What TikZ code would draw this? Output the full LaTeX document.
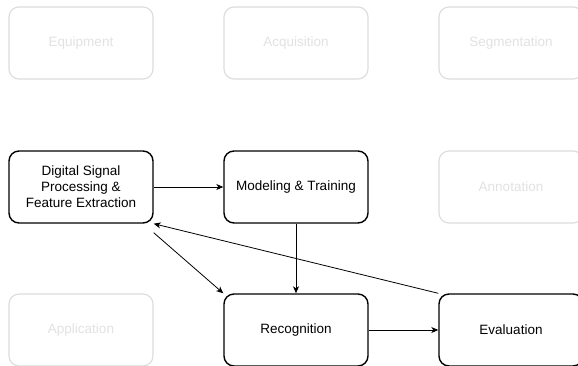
\documentclass[tikz,border=0pt]{standalone}
\usepackage{fontspec}
\setmainfont{Liberation Sans}
\usetikzlibrary{arrows.meta}
\definecolor{fadeline}{HTML}{DCDCDC}
\definecolor{fadetext}{HTML}{E2E2E2}
\begin{document}
\begin{tikzpicture}[x=1pt,y=-1pt,
  box/.style={draw=black,line width=1.4pt,rounded corners=10pt,minimum width=144pt,minimum height=72pt,align=center,font=\fontsize{13.5}{16}\selectfont,inner sep=2pt},
  fadebox/.style={draw=fadeline,line width=1.1pt,rounded corners=10pt,minimum width=144pt,minimum height=72pt,align=center,text=fadetext,font=\fontsize{13.5}{16}\selectfont,inner sep=2pt},
  conn/.style={draw=black,line width=0.8pt,-{Stealth[length=7pt,width=6pt,inset=2pt]}}]
\useasboundingbox[fill=white] (0,0) rectangle (578,365);
\node[fadebox] (equip) at (81,43) {Equipment};
\node[fadebox] (acq) at (296,43) {Acquisition};
\node[fadebox] (seg) at (511,43) {Segmentation};
\node[box] (dsp) at (81,187) {Digital Signal\\Processing \&\\Feature Extraction};
\node[box] (model) at (296,187) {Modeling \& Training};
\node[fadebox] (annot) at (511,187) {Annotation};
\node[fadebox] (app) at (81,330) {Application};
\node[box] (recog) at (296,330) {Recognition};
\node[box] (eval) at (511,330) {Evaluation};
\draw[conn] (dsp.east) -- (model.west);
\draw[conn] (model.south) -- (recog.north);
\draw[conn] (recog.east) -- (eval.west);
\draw[conn] ([yshift=-9pt]dsp.south east) -- (recog.north west);
\draw[conn] (eval.north west) -- (dsp.south east);
\end{tikzpicture}
\end{document}
